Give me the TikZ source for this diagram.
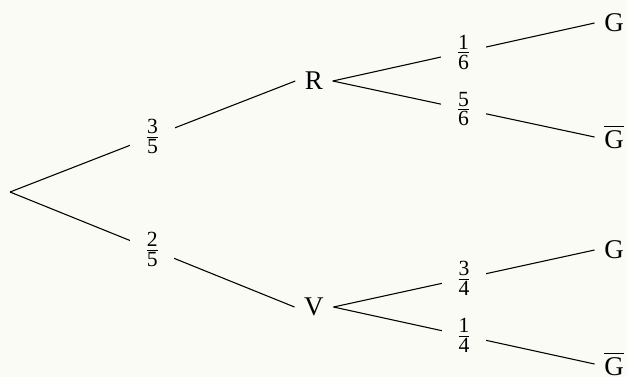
\documentclass[tikz,border=0pt]{standalone}
\usepackage{fontspec}
\setmainfont{Liberation Serif}
\DeclareMathSizes{10}{10}{8}{6}
\usepackage{tikz}
\usetikzlibrary{positioning}
\definecolor{paper}{RGB}{251,251,246}
\newcommand{\pr}[2]{$\frac{\mathrm{#1}}{\mathrm{#2}}$}
\begin{document}
\begin{tikzpicture}[x=0.013cm,y=-0.013cm,
  state/.style={inner sep=3.4pt},
  branch/.style={thin,black},
  prob/.style={fill=paper,inner xsep=5pt,inner ysep=1pt}
]
\fill[paper] (0,0) rectangle (627,377);
\useasboundingbox (0,0) rectangle (627,377);
\coordinate (o) at (10,192);
\node[state] (r) at (314,81) {R};
\node[state] (v) at (314,307) {V};
\node[state] (rg) at (614,23) {G};
\node[state] (rgb) at (614,137) {$\overline{\mathrm{G}}$};
\node[state] (vg) at (614,250) {G};
\node[state] (vgb) at (614,364) {$\overline{\mathrm{G}}$};
\draw[branch] (o)--node[prob] {\pr{3}{5}}(r.west);
\draw[branch] (o)--node[prob] {\pr{2}{5}}(v.west);
\draw[branch] (r.east)--node[prob] {\pr{1}{6}}(rg.west);
\draw[branch] (r.east)--node[prob] {\pr{5}{6}}(rgb.west);
\draw[branch] (v.east)--node[prob] {\pr{3}{4}}(vg.west);
\draw[branch] (v.east)--node[prob] {\pr{1}{4}}(vgb.west);
\end{tikzpicture}
\end{document}
